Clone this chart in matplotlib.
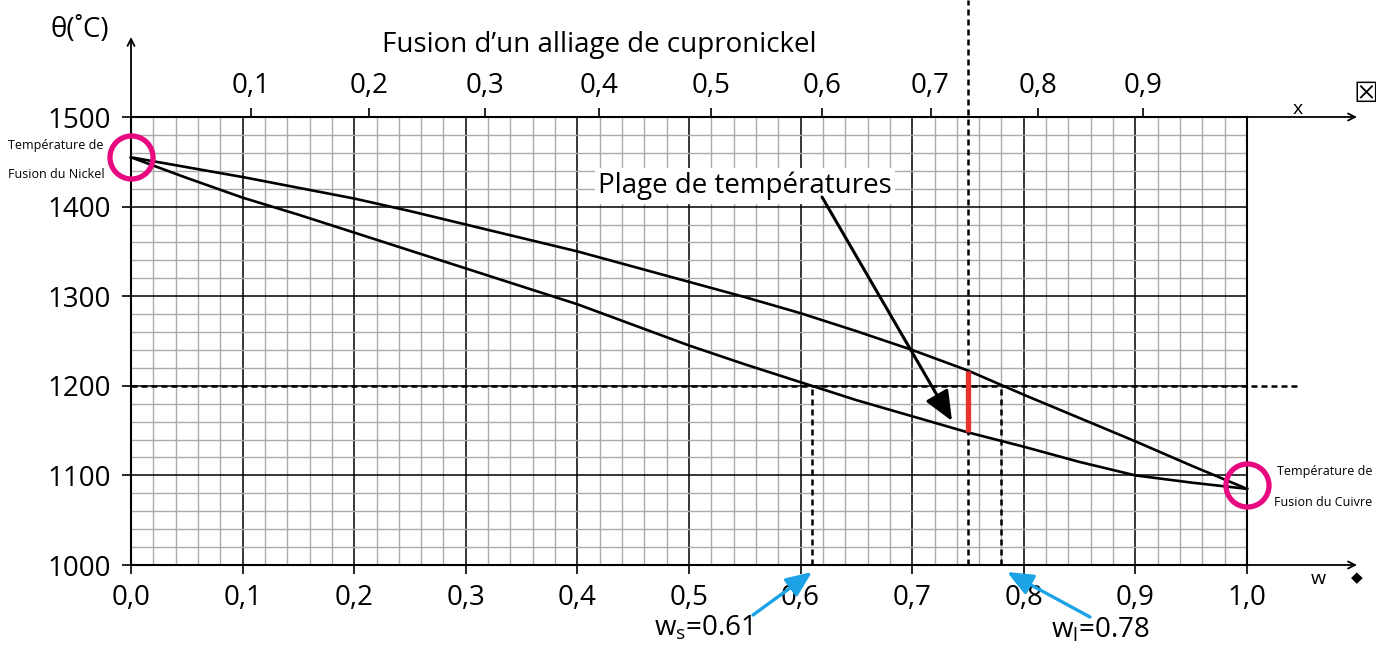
import numpy as np
import matplotlib
matplotlib.use("Agg")
import matplotlib.pyplot as plt
from matplotlib.ticker import FixedLocator, MultipleLocator

plt.rcParams['font.family'] = ['Open Sans', 'DejaVu Sans']
plt.rcParams['mathtext.fontset'] = 'custom'
plt.rcParams['mathtext.rm'] = 'Open Sans'
plt.rcParams['mathtext.it'] = 'Open Sans'

# ---------------- data ----------------
w_points = [0.0, 0.05, 0.1, 0.15, 0.2, 0.25, 0.3, 0.35, 0.4, 0.45, 0.5,
            0.55, 0.6, 0.65, 0.7, 0.75, 0.8, 0.85, 0.9, 0.95, 1.0]
liquidus = [1455, 1444, 1433, 1421, 1409, 1395, 1380, 1365, 1350, 1333, 1316,
            1299, 1281, 1261, 1240, 1217, 1190, 1164, 1138, 1111, 1085]
solidus = [1455, 1432, 1410, 1391, 1371, 1351, 1331, 1311, 1291, 1268, 1245,
           1224, 1204, 1184, 1166, 1148, 1132, 1115, 1100, 1092, 1085]

bottom_ticks = [0.0, 0.1, 0.2, 0.3, 0.4, 0.5, 0.6, 0.7, 0.8, 0.9, 1.0]
bottom_labels = ["0,0", "0,1", "0,2", "0,3", "0,4", "0,5", "0,6", "0,7", "0,8", "0,9", "1,0"]
y_ticks = [1000, 1100, 1200, 1300, 1400, 1500]
y_labels = ["1000", "1100", "1200", "1300", "1400", "1500"]
top_ticks = [0.1, 0.2, 0.3, 0.4, 0.5, 0.6, 0.7, 0.8, 0.9]
top_labels = ["0,1", "0,2", "0,3", "0,4", "0,5", "0,6", "0,7", "0,8", "0,9"]

M_cu, M_ni = 63.55, 58.69
T_ref = 1200
w_alloy = 0.75
range_low, range_high = 1148, 1217
w_s, w_l = 0.61, 0.78
T_ni, T_cu = 1455, 1089

# ---------------- figure ----------------
W, H = 1376, 646
fig = plt.figure(figsize=(W / 100, H / 100), dpi=100)
ax = fig.add_axes([131 / W, (H - 565) / H, 1116 / W, 448 / H])
ax.set_xlim(0, 1)
ax.set_ylim(1000, 1500)

def px2data(px, py):
    return 0 + (px - 131) / 1116, 1500 - (py - 117) / 0.896

ax.xaxis.set_major_locator(FixedLocator(bottom_ticks))
ax.xaxis.set_minor_locator(MultipleLocator(0.02))
ax.yaxis.set_major_locator(FixedLocator(y_ticks))
ax.yaxis.set_minor_locator(MultipleLocator(20))
ax.set_xticklabels(bottom_labels, fontsize=20)
ax.set_yticklabels(y_labels, fontsize=20)
ax.tick_params(which='major', length=6.5, width=1.2, direction='out', color='black')
ax.tick_params(axis='x', which='major', pad=7)
ax.tick_params(axis='y', which='major', pad=8)
ax.tick_params(which='minor', length=0)
ax.set_axisbelow(True)
ax.grid(which='minor', color='#ababab', lw=1.0)
ax.grid(which='major', color='black', lw=1.1)
for s in ax.spines.values():
    s.set_linewidth(1.5)
    s.set_color('black')

# top axis: mole fraction x
def w2x(w):
    w = np.asarray(w, dtype=float)
    with np.errstate(divide='ignore', invalid='ignore'):
        return (w / M_cu) / (w / M_cu + (1 - w) / M_ni)

def x2w(x):
    x = np.asarray(x, dtype=float)
    with np.errstate(divide='ignore', invalid='ignore'):
        return (x * M_cu) / (x * M_cu + (1 - x) * M_ni)

sec = ax.secondary_xaxis('top', functions=(w2x, x2w))
sec.xaxis.set_major_locator(FixedLocator(top_ticks))
sec.set_xticklabels(top_labels, fontsize=20)
sec.tick_params(length=6.5, width=1.2, direction='out', pad=6)
sec.spines['top'].set_visible(False)

# axis extensions with arrows
arrow_kw = dict(arrowstyle='->,head_length=0.5,head_width=0.25', lw=1.3, color='black',
                shrinkA=0, shrinkB=0)
xe, _ = px2data(1357, 0)
ax.annotate('', xy=(xe, 1000), xytext=(1.0, 1000), arrowprops=arrow_kw, annotation_clip=False)
ax.annotate('', xy=(xe, 1500), xytext=(1.0, 1500), arrowprops=arrow_kw, annotation_clip=False)
_, ye = px2data(0, 37)
ax.annotate('', xy=(0, ye), xytext=(0, 1500), arrowprops=arrow_kw, annotation_clip=False)

# curves
ax.plot(w_points, liquidus, color='black', lw=1.9, zorder=5, clip_on=False)
ax.plot(w_points, solidus, color='black', lw=1.9, zorder=5, clip_on=False)

# dashed guides
dash = dict(color='black', lw=1.8, ls=(0, (2.4, 1.6)), zorder=6, clip_on=False)
_, ytop = px2data(0, 0)
ax.plot([w_alloy, w_alloy], [1000, ytop], **dash)
xr, _ = px2data(1300, 0)
ax.plot([0, xr], [T_ref, T_ref], **dash)
ax.plot([w_s, w_s], [1000, T_ref], **dash)
ax.plot([w_l, w_l], [1000, T_ref], **dash)

# red temperature range
ax.plot([w_alloy, w_alloy], [range_low, range_high], color='#E8322D', lw=3.8, zorder=7,
        solid_capstyle='butt')

# circles
ax.plot([0], [T_ni], marker='o', ms=31, mfc='none', mec='#E6097F', mew=3.8, zorder=8, clip_on=False)
ax.plot([1], [T_cu], marker='o', ms=31, mfc='none', mec='#E6097F', mew=3.8, zorder=8, clip_on=False)

# Plage de températures label + arrow
tx, ty = px2data(745, 186)
ax.text(tx, ty, 'Plage de températures', fontsize=20, ha='center', va='center', zorder=9,
        bbox=dict(boxstyle='square,pad=0.12', fc='white', ec='none'))
a0 = px2data(822, 197)
a1 = px2data(952, 421)
ax.annotate('', xy=a1, xytext=a0, zorder=9,
            arrowprops=dict(arrowstyle='-|>,head_length=1.4,head_width=0.6', lw=2.2,
                            color='black', shrinkA=0, shrinkB=0, mutation_scale=13))

# blue arrows + labels
blue = '#1BA3E6'
bkw = dict(arrowstyle='-|>,head_length=1.3,head_width=0.55', lw=2.4, color=blue,
           shrinkA=0, shrinkB=0, mutation_scale=12)
ax.annotate('', xy=px2data(812, 572), xytext=px2data(753, 615), arrowprops=bkw,
            annotation_clip=False, zorder=9)
ax.annotate('', xy=px2data(1007, 572), xytext=px2data(1090, 617), arrowprops=bkw,
            annotation_clip=False, zorder=9)
lx, ly = px2data(752, 636)
ax.text(lx, ly, r'w$_\mathregular{s}$=0.61', fontsize=20, ha='right', va='baseline', clip_on=False)
lx, ly = px2data(1051, 637)
ax.text(lx, ly, r'w$_\mathregular{l}$=0.78', fontsize=20, ha='left', va='baseline', clip_on=False)

# other texts
def ftext(px, py, s, **kw):
    fig.text(px / W, 1 - py / H, s, **kw)

ftext(599, 45, 'Fusion d\u2019un alliage de cupronickel', fontsize=20, ha='center', va='center')
ftext(80, 30, '\u03b8(\u02daC)', fontsize=20, ha='center', va='center')
ftext(8, 145, 'Température de', fontsize=9, ha='left', va='center')
ftext(8, 175, 'Fusion du Nickel', fontsize=9, ha='left', va='center')
ftext(1277, 471, 'Température de', fontsize=9, ha='left', va='center')
ftext(1274, 503, 'Fusion du Cuivre', fontsize=9, ha='left', va='center')
ftext(1298, 109, 'x', fontsize=14, ha='center', va='center')
ftext(1318, 579, 'w', fontsize=14, ha='center', va='center')
ftext(1357, 578, '\u25c6', fontsize=11, ha='center', va='center', family='DejaVu Sans')
ftext(1366, 94, '\u2612', fontsize=20, ha='center', va='center', family='DejaVu Sans')

fig.savefig('out.png', dpi=100)
